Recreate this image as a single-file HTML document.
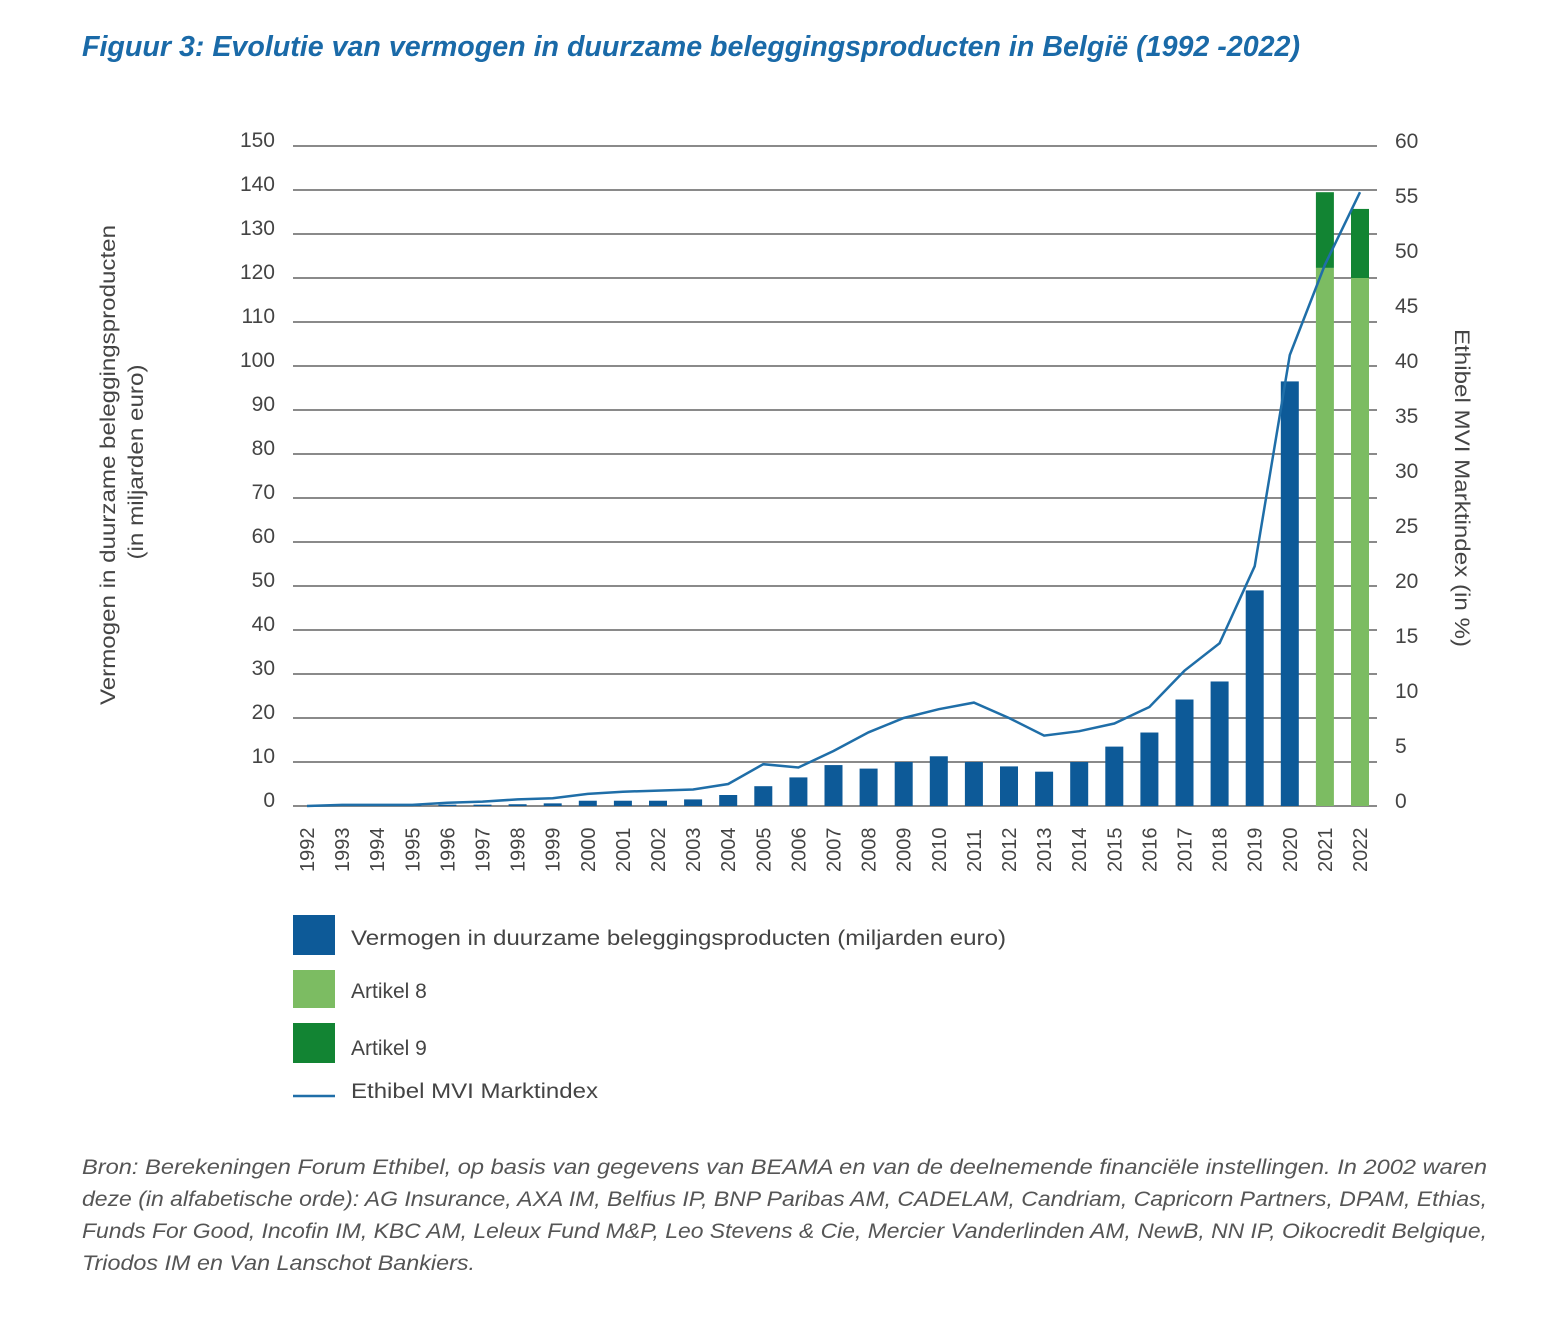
<!DOCTYPE html>
<html><head><meta charset="utf-8"><style>
body{margin:0;background:#fff;width:1558px;height:1320px;overflow:hidden;font-family:"Liberation Sans",sans-serif}
</style></head><body>
<svg width="1558" height="1320" xmlns="http://www.w3.org/2000/svg" font-family="Liberation Sans, sans-serif">
<text x="82" y="56" font-size="29" font-weight="bold" font-style="italic" fill="#1a6aa8" textLength="1218" lengthAdjust="spacingAndGlyphs">Figuur 3: Evolutie van vermogen in duurzame beleggingsproducten in België (1992 -2022)</text>
<g stroke="#8a8a8a" stroke-width="2">
<line x1="293" x2="1377" y1="146" y2="146"/><line x1="293" x2="1377" y1="190" y2="190"/><line x1="293" x2="1377" y1="234" y2="234"/><line x1="293" x2="1377" y1="278" y2="278"/><line x1="293" x2="1377" y1="322" y2="322"/><line x1="293" x2="1377" y1="366" y2="366"/><line x1="293" x2="1377" y1="410" y2="410"/><line x1="293" x2="1377" y1="454" y2="454"/><line x1="293" x2="1377" y1="498" y2="498"/><line x1="293" x2="1377" y1="542" y2="542"/><line x1="293" x2="1377" y1="586" y2="586"/><line x1="293" x2="1377" y1="630" y2="630"/><line x1="293" x2="1377" y1="674" y2="674"/><line x1="293" x2="1377" y1="718" y2="718"/><line x1="293" x2="1377" y1="762" y2="762"/><line x1="293" x2="1377" y1="806" y2="806"/>
</g>
<g font-size="21" fill="#444" text-anchor="end">
<text x="275" y="147">150</text><text x="275" y="191">140</text><text x="275" y="235">130</text><text x="275" y="279">120</text><text x="275" y="323">110</text><text x="275" y="367">100</text><text x="275" y="411">90</text><text x="275" y="455">80</text><text x="275" y="499">70</text><text x="275" y="543">60</text><text x="275" y="587">50</text><text x="275" y="631">40</text><text x="275" y="675">30</text><text x="275" y="719">20</text><text x="275" y="763">10</text><text x="275" y="807">0</text>
</g>
<g font-size="21" fill="#444">
<text x="1395" y="148">60</text><text x="1395" y="203">55</text><text x="1395" y="258">50</text><text x="1395" y="313">45</text><text x="1395" y="368">40</text><text x="1395" y="423">35</text><text x="1395" y="478">30</text><text x="1395" y="533">25</text><text x="1395" y="588">20</text><text x="1395" y="643">15</text><text x="1395" y="698">10</text><text x="1395" y="753">5</text><text x="1395" y="808">0</text>
</g>
<text transform="translate(115,465) rotate(-90)" font-size="21" fill="#444" text-anchor="middle" textLength="480" lengthAdjust="spacingAndGlyphs">Vermogen in duurzame beleggingsproducten</text>
<text transform="translate(143,462) rotate(-90)" font-size="21" fill="#444" text-anchor="middle" textLength="195" lengthAdjust="spacingAndGlyphs">(in miljarden euro)</text>
<text transform="translate(1455,488) rotate(90)" font-size="21" fill="#444" text-anchor="middle" textLength="318" lengthAdjust="spacingAndGlyphs">Ethibel MVI Marktindex (in %)</text>
<g id="bars"></g>
<g id="years" font-size="20" fill="#444"></g>
<polyline id="line" fill="none" stroke="#1f6ea8" stroke-width="2.5"/>
<rect x="293" y="915" width="42" height="40" fill="#0d5a98"/>
<rect x="293" y="970" width="42" height="38" fill="#7cbc62"/>
<rect x="293" y="1023" width="42" height="40" fill="#128433"/>
<line x1="293" x2="335" y1="1096" y2="1096" stroke="#1f6ea8" stroke-width="2.5"/>
<g font-size="21" fill="#444">
<text x="351" y="945" textLength="655" lengthAdjust="spacingAndGlyphs">Vermogen in duurzame beleggingsproducten (miljarden euro)</text>
<text x="351" y="998">Artikel 8</text>
<text x="351" y="1055">Artikel 9</text>
<text x="351" y="1098" textLength="247" lengthAdjust="spacingAndGlyphs">Ethibel MVI Marktindex</text>
</g>
<g font-size="21" fill="#555" font-style="italic">
<text x="82" y="1174" textLength="1405" lengthAdjust="spacingAndGlyphs">Bron: Berekeningen Forum Ethibel, op basis van gegevens van BEAMA en van de deelnemende financiële instellingen. In 2002 waren</text>
<text x="82" y="1206" textLength="1405" lengthAdjust="spacingAndGlyphs">deze (in alfabetische orde): AG Insurance, AXA IM, Belfius IP, BNP Paribas AM, CADELAM, Candriam, Capricorn Partners, DPAM, Ethias,</text>
<text x="82" y="1238" textLength="1405" lengthAdjust="spacingAndGlyphs">Funds For Good, Incofin IM, KBC AM, Leleux Fund M&amp;P, Leo Stevens &amp; Cie, Mercier Vanderlinden AM, NewB, NN IP, Oikocredit Belgique,</text>
<text x="82" y="1270" textLength="393" lengthAdjust="spacingAndGlyphs">Triodos IM en Van Lanschot Bankiers.</text>
</g>
<script>
var v=[0,0.1,0.1,0.1,0.3,0.3,0.4,0.6,1.2,1.2,1.2,1.5,2.5,4.5,6.5,9.3,8.5,10,11.3,10,9,7.8,10,13.5,16.7,24.2,28.3,49,96.5];
var l=[0,0.1,0.1,0.1,0.3,0.4,0.6,0.7,1.1,1.3,1.4,1.5,2,3.8,3.5,5,6.7,8,8.8,9.4,8,6.4,6.8,7.5,9,12.3,14.8,21.8,41,49.2,55.8];
var ns="http://www.w3.org/2000/svg",b=document.getElementById('bars'),yr=document.getElementById('years');
function r(x,y,w,h,c){var e=document.createElementNS(ns,'rect');e.setAttribute('x',x);e.setAttribute('y',y);e.setAttribute('width',w);e.setAttribute('height',h);e.setAttribute('fill',c);b.appendChild(e);}
var pts=[];
for(var i=0;i<31;i++){var cx=307+i*35.1;
 if(i<29){var h=v[i]*4.4;r(cx-9,806-h,18,h,'#0d5a98');}
 pts.push(cx.toFixed(1)+','+(806-l[i]*11).toFixed(1));
 var t=document.createElementNS(ns,'text');t.setAttribute('transform','translate('+(cx+7)+',872) rotate(-90)');t.textContent=1992+i;yr.appendChild(t);}
var c21=307+29*35.1,c22=307+30*35.1;
r(c21-9,806-122.3*4.4,18,122.3*4.4,'#7cbc62');r(c21-9,806-139.5*4.4,18,17.2*4.4,'#128433');
r(c22-9,806-120*4.4,18,120*4.4,'#7cbc62');r(c22-9,806-135.7*4.4,18,15.7*4.4,'#128433');
document.getElementById('line').setAttribute('points',pts.join(' '));
</script>
</svg>
</body></html>
